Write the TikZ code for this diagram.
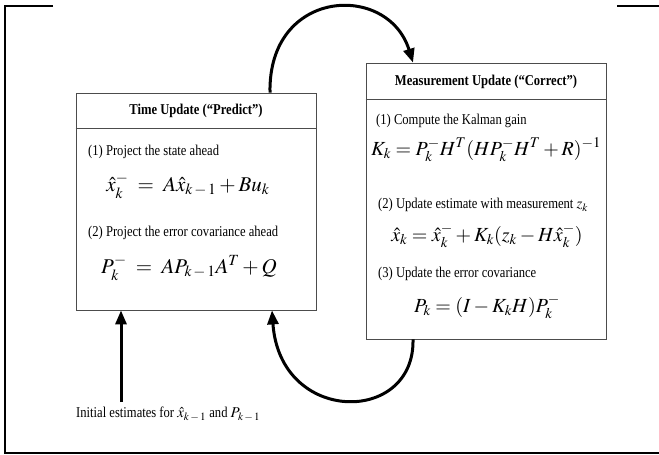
\documentclass[tikz,border=0pt]{standalone}
\usepackage{mathptmx}
\usepackage[no-math]{fontspec}
\setmainfont{Liberation Serif}[FakeStretch=0.84]
\usetikzlibrary{arrows.meta}
\tikzset{
  frm/.style={draw=black,line width=2pt},
  bx/.style={rectangle,draw=black!70,fill=white,line width=.8pt,inner sep=0pt},
  sep/.style={draw=black!70,line width=.8pt},
  hd/.style={font=\fontsize{15}{17}\selectfont\bfseries},
  tx/.style={font=\fontsize{15}{17}\selectfont,anchor=west,inner sep=0pt},
  eq/.style={font=\fontsize{20}{24}\selectfont,inner sep=0pt},
  eqb/.style={font=\fontsize{21}{25}\selectfont,inner sep=0pt},
  flow/.style={-{Triangle[length=14pt,width=11pt]},line width=3pt,draw=black},
}
\begin{document}
\begin{tikzpicture}[x=1pt,y=-1pt]
\useasboundingbox (0,0) rectangle (659,455);
% open frame round the figure
\draw[frm] (53,6) -- (5,6) -- (5,453) -- (659,453);
\draw[frm] (617,6) -- (659,6);

% time update
\node[bx,minimum width=240pt,minimum height=217pt] (tu) at (196,201.5) {};
\draw[sep] ([yshift=-36pt]tu.north west) -- ([yshift=-36pt]tu.north east);
\node[hd] (tuh) at (196,111) {Time Update (``Predict'')};
\node[tx] (tu1) at (88,152) {(1) Project the state ahead};
\node[eqb] (tue1) at (188,186) {$\hat{x}^{-}_{k} \;=\; A\hat{x}_{k\,-\,1} + Bu_{k}$};
\node[tx] (tu2) at (88,233) {(2) Project the error covariance ahead};
\node[eqb] (tue2) at (189,268) {$P^{-}_{k} \;=\; AP_{k\,-\,1}A^{T} + Q$};

% measurement update
\node[bx,minimum width=240pt,minimum height=276pt] (mu) at (486,201) {};
\draw[sep] ([yshift=-37pt]mu.north west) -- ([yshift=-37pt]mu.north east);
\node[hd] (muh) at (486,82) {Measurement Update (``Correct'')};
\node[tx] (mu1) at (376,121) {(1) Compute the Kalman gain};
\node[eq] (mue1) at (486,150) {$K_{k} = P^{-}_{k}H^{T}(HP^{-}_{k}H^{T}+R)^{-1}$};
\node[tx] (mu2) at (378,205) {(2) Update estimate with measurement $z_{k}$};
\node[eq] (mue2) at (487,236) {$\hat{x}_{k} = \hat{x}^{-}_{k} + K_{k}(z_{k} - H\hat{x}^{-}_{k})$};
\node[tx] (mu3) at (378,274) {(3) Update the error covariance};
\node[eq] (mue3) at (487,307) {$P_{k} = (I - K_{k}H)P^{-}_{k}$};

% start and loop
\node[tx] (init) at (76,414) {Initial estimates for $\hat{x}_{k\,-\,1}$ and $P_{k\,-\,1}$};
\coordinate (in) at (121,402);
\draw[flow] (in) -- (in |- tu.south);
\draw[flow] ([xshift=74pt]tu.north) .. controls (268,-12) and (388,-18) .. ([xshift=-73pt]mu.north);
\draw[flow] ([xshift=-73pt]mu.south) .. controls (415,425) and (280,425) .. ([xshift=76pt]tu.south);
\end{tikzpicture}
\end{document}
